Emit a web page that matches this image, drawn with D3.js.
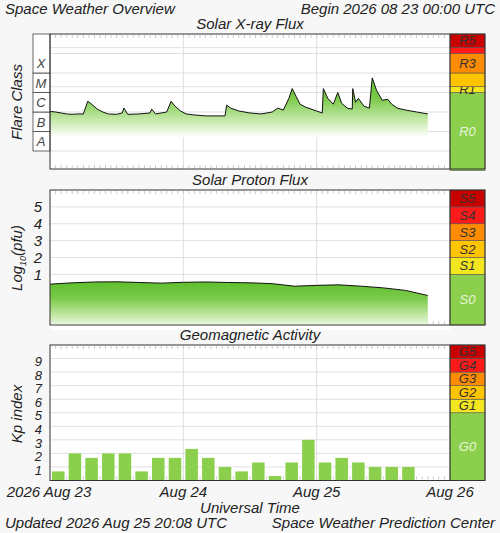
<!DOCTYPE html>
<html><head><meta charset="utf-8">
<script src="https://cdn.jsdelivr.net/npm/d3@7"></script>
<style>body{margin:0;background:#f7f7f7}svg{font-family:"Liberation Sans",Arial,sans-serif;font-style:italic}</style>
</head><body><svg id="c" width="500" height="533"></svg>
<script>
const dayLabels=["2026 Aug 23","Aug 24","Aug 25","Aug 26"];
const flareClasses=["A","B","C","M","X"];
const xrayHours=[0,1,2,3,4,5,6,6.8,7.5,8.5,9.5,10.5,12,13,13.3,14,16,18,18.3,19,20,21,21.8,22.5,23.5,24.5,26,28,30,31.5,31.8,32.5,34,36,38,40,41,42,43,43.6,44.3,45,46,47,48,49,49.2,50,51,51.8,52.5,53.5,54.4,54.5,55,55.5,56.5,57.5,58,58.8,59.8,60.8,61.5,62.5,64,66,68];
const xrayLog=[-5.97,-6.0,-6.05,-6.1,-6.12,-6.1,-6.1,-5.45,-5.6,-5.85,-6.0,-6.1,-6.12,-6.05,-5.8,-6.12,-6.1,-6.05,-5.85,-6.1,-6.05,-6.0,-5.45,-5.7,-5.95,-6.1,-6.15,-6.2,-6.2,-6.2,-5.65,-5.8,-5.95,-6.05,-6.1,-6.0,-5.8,-5.9,-5.3,-4.8,-5.2,-5.6,-5.75,-5.85,-5.95,-6.05,-4.8,-5.3,-5.6,-5.0,-5.55,-5.8,-5.85,-4.8,-5.5,-5.3,-5.7,-5.8,-4.25,-4.9,-5.4,-5.35,-5.6,-5.8,-5.9,-6.0,-6.1];
const protonHours=[0,4,8,12,16,20,24,28,32,36,40,44,48,52,56,60,64,68];
const protonLog=[0.42,0.5,0.55,0.56,0.52,0.48,0.53,0.55,0.52,0.5,0.45,0.3,0.35,0.38,0.3,0.2,0.05,-0.25];
const kpValues=[0.67,2,1.67,2,2,0.67,1.67,1.67,2.33,1.67,1,0.67,1.33,0.33,1.33,3,1.33,1.67,1.33,1,1,1];
const rScale=[{l:"R0",a:-9,b:-5,c:"#8ccf4d"},{l:"R1",a:-5,b:-4.7,c:"#f2e61e"},{l:"",a:-4.7,b:-4,c:"#ffc400"},{l:"R3",a:-4,b:-3,c:"#ff8c00"},{l:"",a:-3,b:-2.7,c:"#ff1a1a"},{l:"R5",a:-2.7,b:-2,c:"#c80000"}];
const sScale=["S0","S1","S2","S3","S4","S5"];
const gScale=["G0","G1","G2","G3","G4","G5"];
const bandColors=["#8ccf4d","#f2e61e","#ffc400","#ff8c00","#ff1a1a","#c80000"];

const svg=d3.select("#c");
const X0=50,X1=450,B1=485;
const x=d3.scaleLinear().domain([0,72]).range([X0,X1]);
const defs=svg.append("defs");
function grad(id,y1,y2){const g=defs.append("linearGradient").attr("id",id).attr("gradientUnits","userSpaceOnUse").attr("x1",0).attr("x2",0).attr("y1",y1).attr("y2",y2);
 g.append("stop").attr("offset",0).attr("stop-color","#5fbf2e");g.append("stop").attr("offset",0.35).attr("stop-color","#7cca4a");g.append("stop").attr("offset",0.7).attr("stop-color","#c4e8a8");g.append("stop").attr("offset",1).attr("stop-color","#ffffff");}
function txt(t,xx,yy,sz,anchor){return svg.append("text").attr("x",xx).attr("y",yy).attr("font-size",sz).attr("text-anchor",anchor||"middle").attr("fill","#222").text(t);}
function frame(top,bot,title,hlines){
 svg.append("rect").attr("x",X0).attr("y",top).attr("width",X1-X0).attr("height",bot-top).attr("fill","#fff");
 const g=svg.append("g");
 hlines.forEach(v=>g.append("line").attr("x1",X0).attr("x2",X1).attr("y1",v).attr("y2",v).attr("stroke","#e0e0e0"));
 [24,48].forEach(h=>g.append("line").attr("x1",x(h)).attr("x2",x(h)).attr("y1",top).attr("y2",bot).attr("stroke","#e0e0e0"));
 d3.range(1,72).forEach(h=>{g.append("line").attr("x1",x(h)).attr("x2",x(h)).attr("y1",top+1).attr("y2",top+4).attr("stroke","#ccc");g.append("line").attr("x1",x(h)).attr("x2",x(h)).attr("y1",bot-4).attr("y2",bot-1).attr("stroke","#ccc");});
 txt(title,250,top-5,15);
}
function border(top,bot){svg.append("rect").attr("x",X0).attr("y",top).attr("width",B1-X0).attr("height",bot-top).attr("fill","none").attr("stroke","#333");
 svg.append("line").attr("x1",X1).attr("x2",X1).attr("y1",top).attr("y2",bot).attr("stroke","#333");}
function bands(y,list){list.forEach(b=>{svg.append("rect").attr("x",X1).attr("y",y(b.b)).attr("width",B1-X1).attr("height",y(b.a)-y(b.b)).attr("fill",b.c).attr("stroke","#555").attr("stroke-width",0.6);
 if(b.l)svg.append("text").attr("x",(X1+B1)/2).attr("y",(y(b.a)+y(b.b))/2+4.5).attr("text-anchor","middle").attr("font-size",13).attr("fill",b.l.endsWith("0")?"#e8f5dc":"#333").text(b.l);});}
function areaPlot(hours,vals,y,bottom,id){
 const pts=hours.map((h,i)=>[h,vals[i]]);
 grad(id,d3.min(vals,v=>y(v)),bottom);
 svg.append("path").datum(pts).attr("d",d3.area().x(d=>x(d[0])).y0(bottom).y1(d=>y(d[1]))).attr("fill","url(#"+id+")");
 svg.append("path").datum(pts).attr("d",d3.line().x(d=>x(d[0])).y(d=>y(d[1]))).attr("fill","none").attr("stroke","#111").attr("stroke-width",1);
}
txt("Space Weather Overview",5,14,15,"start");
txt("Begin 2026 08 23 00:00 UTC",495,14,15,"end");

// Panel 1
const T1=34,Bt1=169;
const y1=d3.scaleLinear().domain([-9,-2]).range([170.5,34]);
frame(T1,Bt1,"Solar X-ray Flux",[-8,-7,-6,-5,-4,-2.7,-4.7,-3].map(y1));
areaPlot(xrayHours,xrayLog,y1,y1(-7.3),"g1");
bands(y1,rScale);
flareClasses.forEach((c,i)=>{const a=-8+i,b=i==4?-2:a+1;
 svg.append("rect").attr("x",33).attr("y",y1(b)).attr("width",17).attr("height",y1(a)-y1(b)).attr("fill","#fff").attr("stroke","#444").attr("stroke-width",0.8);
 svg.append("text").attr("x",41).attr("y",(i==4?y1(-3.5):(y1(a)+y1(b))/2)+5).attr("text-anchor","middle").attr("font-size",13).attr("fill","#444").text(c);});
border(T1,Bt1);
svg.append("text").attr("transform","translate(22,102) rotate(-90)").attr("text-anchor","middle").attr("font-size",15).attr("fill","#222").text("Flare Class");

// Panel 2
const T2=190,Bt2=325;
const y2=d3.scaleLinear().domain([-2,6]).range([Bt2,T2]);
frame(T2,Bt2,"Solar Proton Flux",[1,2,3,4,5].map(y2));
areaPlot(protonHours,protonLog,y2,y2(-2.3),"g2");
svg.append("rect").attr("x",X0).attr("y",y2(-2)-1).attr("width",X1-X0).attr("height",y2(-2.3)-y2(-2)+1).attr("fill","#fff");
bands(y2,sScale.map((l,i)=>({l,a:i==0?-2:i,b:i+1,c:bandColors[i]})));
border(T2,Bt2);
svg.append("g").attr("transform",`translate(${X0},0)`).call(d3.axisLeft(y2).tickValues([1,2,3,4,5]).tickSize(0).tickPadding(8)).call(g=>{g.select(".domain").remove();g.selectAll("text").attr("font-size",15).attr("font-family","Liberation Sans").attr("font-style","italic").attr("fill","#222");});
const lt=svg.append("text").attr("transform","translate(22,258) rotate(-90)").attr("text-anchor","middle").attr("font-size",15).attr("fill","#222");
lt.append("tspan").text("Log");lt.append("tspan").attr("font-size",9).attr("dy",4).text("10");lt.append("tspan").attr("dy",-4).text("(pfu)");

// Panel 3
const T3=345,Bt3=480.5;
const y3=d3.scaleLinear().domain([0,10]).range([Bt3,T3]);
frame(T3,Bt3,"Geomagnetic Activity",d3.range(1,10).map(y3));
const xb=d3.scaleBand().domain(d3.range(24)).range([X0,X1]).paddingInner(0.25).paddingOuter(0.12);
svg.append("g").selectAll("rect").data(kpValues).join("rect").attr("x",(d,i)=>xb(i)).attr("width",xb.bandwidth()).attr("y",d=>y3(d)).attr("height",d=>Bt3-y3(d)).attr("fill","#8ccf4d");
bands(y3,gScale.map((l,i)=>({l,a:i==0?0:i+4,b:i+5,c:bandColors[i]})));
border(T3,Bt3);
svg.append("g").attr("transform",`translate(${X0},3)`).call(d3.axisLeft(y3).tickValues(d3.range(1,10)).tickSize(0).tickPadding(8)).call(g=>{g.select(".domain").remove();g.selectAll("text").attr("font-size",13).attr("font-family","Liberation Sans").attr("font-style","italic").attr("fill","#222");});
svg.append("text").attr("transform","translate(22,414) rotate(-90)").attr("text-anchor","middle").attr("font-size",15).attr("fill","#222").text("Kp index");

// X axis labels
dayLabels.forEach((l,i)=>txt(l,x(i*24)+(i==0?-1:0),497,15));
txt("Universal Time",250,513,15);
txt("Updated 2026 Aug 25 20:08 UTC",5,528,15,"start");
txt("Space Weather Prediction Center",495,528,15,"end");
</script></body></html>
